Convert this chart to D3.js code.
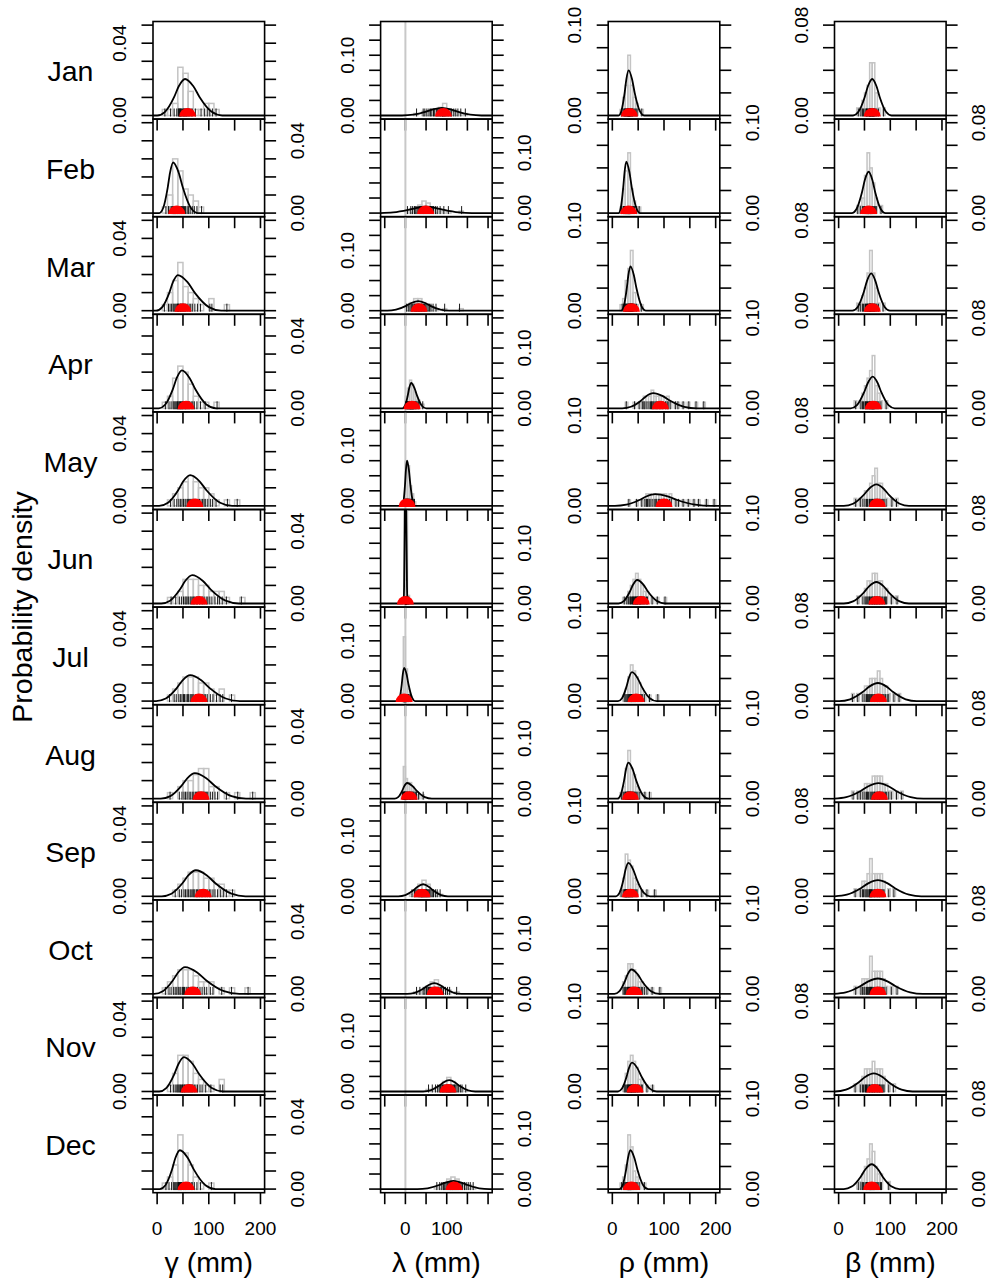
<!DOCTYPE html>
<html><head><meta charset="utf-8">
<script src="https://cdn.jsdelivr.net/npm/d3@7"></script>
<style>body{margin:0;background:#fff}svg{display:block;font-family:"Liberation Sans",Arial,Helvetica,sans-serif}</style>
</head><body><svg id="chart" width="990" height="1285"></svg>
<script>
const months = ["Jan","Feb","Mar","Apr","May","Jun","Jul","Aug","Sep","Oct","Nov","Dec"];
const paramTitles = ["γ (mm)", "λ (mm)", "ρ (mm)", "β (mm)"];
const xLimits = [[0,200],[-50,200],[0,200],[0,200]];
const yLimits = [0.05, 0.15, 0.10, 0.08];
const xTickValues = [[0,50,100,150,200],[-50,0,50,100,150,200],[0,50,100,150,200],[0,50,100,150,200]];
const xTickLabels = [[0,100,200],[0,100],[0,100,200],[0,100,200]];
const yTickValues = [[0,0.01,0.02,0.03,0.04,0.05],[0,0.025,0.05,0.075,0.1,0.125,0.15],[0,0.025,0.05,0.075,0.1],[0,0.02,0.04,0.06,0.08]];
const yTickLabels = [[0,0.04],[0,0.10],[0,0.10],[0,0.08]];

const binWidthGamma = [10,10,10,10,10,10,10,10,10,10,10,10];
const binWidthLambda = [10,10,10,5,5,5,5,5,10,10,10,10];
const binWidthRho = [5,5,5,5,5,5,5,5,5,5,5,5];
const binWidthBeta = [5,5,5,5,5,5,5,5,5,5,5,5];

const obsGamma = [
 [15,26,33,38,41,42,43,44,45,46,47,49,51,52,53,55,56,57,59,61,63,66,68,74,85,92,97,102,107,114],
 [17,22,25,28,30,31,32,33,34,35,36,37,39,40,41,43,44,46,47,49,51,53,55,58,61,64,68,72,77,86],
 [14,22,25,28,31,33,35,37,39,40,41,42,44,45,46,47,49,51,53,55,58,62,65,68,73,78,84,102,106,135],
 [16,23,27,31,33,35,37,39,40,42,43,45,46,47,49,50,52,54,55,57,59,61,63,66,69,72,77,84,93,116],
 [26,33,38,42,45,48,51,54,56,59,61,63,65,67,69,71,74,76,79,82,85,88,91,94,98,103,107,114,136,155],
 [27,36,43,47,51,54,56,58,61,64,66,69,71,73,76,78,82,85,88,91,95,98,102,106,112,117,121,126,134,163],
 [24,33,37,42,45,48,51,53,56,59,61,64,66,68,71,74,76,79,82,85,88,91,94,97,103,108,115,122,127,144],
 [25,43,48,52,55,58,62,65,68,71,74,76,78,80,82,84,86,88,90,92,94,96,98,103,107,112,117,134,156,185],
 [35,43,47,52,55,58,61,64,66,69,71,73,76,78,81,83,86,88,91,94,97,101,104,108,112,117,123,128,134,146],
 [16,23,27,32,35,38,41,44,46,49,51,53,56,58,61,64,66,69,72,75,78,83,87,92,96,103,108,125,144,176],
 [26,32,35,38,40,42,44,45,47,49,50,52,53,55,57,59,61,63,65,67,69,72,75,78,83,87,94,104,122,127],
 [17,23,28,32,34,36,38,40,41,42,43,44,45,46,47,48,51,52,54,55,57,59,61,63,66,68,72,77,84,105]
];
const obsLambda = [
 [27,43,47,52,57,61,64,68,71,75,78,81,84,86,89,90,91,93,94,96,98,101,104,108,112,117,122,127,134,145],
 [5,13,17,22,25,28,31,34,36,38,40,42,44,45,47,49,51,53,55,57,59,62,65,68,73,77,84,93,104,136],
 [3,7,11,14,16,18,21,23,24,26,27,29,31,32,34,35,37,39,41,44,46,48,52,55,58,62,67,74,95,131],
 [1,2,4,5,6,7,8,9,10,11,12,12,13,14,14,15,16,17,18,18,19,20,21,23,24,26,28,31,33,42],
 [0,0,1,1,1,2,2,3,3,4,4,5,5,6,6,7,7,8,8,9,9,10,11,12,13,14,15,17,19,22],
 [0,0,0,0,0,0,0,0,0,0,0,0,0,0,1,1,1,1,1,1,2,2,2,2,3,3,4,4,6,8],
 [-8,-6,-5,-5,-4,-4,-4,-3,-3,-3,-2,-2,-2,-1,-1,-1,-1,-1,0,0,1,1,2,3,3,4,6,7,9,12],
 [-7,-5,-4,-4,-3,-2,-2,-1,-1,0,1,2,3,4,5,6,8,9,10,12,13,14,16,17,19,21,24,27,32,43],
 [16,22,25,28,31,33,35,36,38,39,40,41,42,44,45,46,48,49,51,52,54,55,57,59,62,65,68,73,77,84],
 [27,35,43,47,51,54,56,58,60,62,64,65,67,69,70,71,73,74,76,77,79,81,84,86,88,92,97,102,107,124],
 [56,65,73,78,82,85,88,90,92,94,96,98,100,101,103,104,106,107,109,111,113,115,117,119,122,125,128,133,137,146],
 [76,83,88,92,95,98,101,103,105,107,109,110,112,114,115,117,119,121,123,125,127,129,132,135,138,143,147,152,157,164]
];
const obsRho = [
 [18,21,23,24,25,26,27,28,29,30,30,31,31,32,32,33,33,34,34,35,36,37,38,39,40,42,44,46,48,57],
 [18,21,22,23,24,25,26,26,27,28,28,29,30,30,31,31,32,32,33,33,34,34,35,36,37,39,41,43,47,52],
 [19,22,24,25,26,27,28,29,30,31,32,32,33,34,34,35,35,36,36,37,37,38,38,39,39,41,42,44,47,56],
 [27,43,52,58,61,63,67,71,74,76,77,79,81,84,86,88,91,93,96,98,103,106,108,112,122,127,137,148,162,177],
 [32,47,57,63,66,68,71,73,77,81,84,86,89,91,94,96,99,101,104,107,111,114,123,128,137,147,158,167,182,197],
 [23,28,31,34,35,37,39,40,41,43,44,45,46,47,48,49,50,52,53,54,55,57,59,61,63,66,68,77,87,102],
 [23,26,28,30,31,33,34,35,36,37,37,38,39,40,41,42,43,44,45,46,48,49,51,52,54,56,58,62,72,88],
 [18,21,23,25,26,27,28,29,30,30,31,32,32,33,34,34,35,36,37,38,39,40,41,43,44,46,48,52,63,72],
 [17,21,23,24,25,26,26,27,28,28,29,30,31,32,32,33,34,35,36,37,38,39,40,42,44,46,48,57,67,82],
 [21,24,25,27,29,30,31,32,33,34,35,36,37,38,39,40,41,43,44,45,47,49,51,53,56,58,62,67,77,92],
 [23,25,27,29,30,31,32,33,34,35,36,37,37,38,39,40,41,42,43,44,45,46,48,49,51,53,56,58,67,78],
 [18,22,24,25,27,28,29,30,30,31,31,32,32,33,33,34,35,35,36,36,37,38,39,41,42,44,46,48,52,62]
];
const obsBeta = [
 [38,43,46,48,51,53,54,55,56,58,59,60,60,61,62,62,63,64,65,65,66,67,67,68,69,70,72,74,77,87],
 [37,42,46,48,50,51,52,53,54,55,55,56,57,57,58,58,59,60,61,62,62,63,64,65,66,68,69,71,73,82],
 [38,42,46,48,51,52,54,55,56,57,58,59,60,60,61,61,62,62,63,64,65,66,67,68,69,70,72,74,77,86],
 [33,43,46,48,51,52,54,55,56,58,59,60,61,62,63,64,65,65,66,67,67,68,69,70,72,74,76,78,82,92],
 [33,42,47,51,54,56,59,60,62,64,65,66,68,69,70,71,72,73,74,75,77,79,80,82,84,86,88,92,103,112],
 [37,47,51,53,55,57,59,60,62,64,65,66,68,69,70,71,73,74,75,77,79,80,82,84,86,89,91,93,102,113],
 [27,37,47,51,54,56,58,60,62,64,65,67,69,70,72,74,75,76,78,79,80,82,84,86,88,91,94,97,107,117],
 [28,37,42,47,51,54,56,58,61,63,65,67,69,70,72,74,75,77,79,80,82,84,86,88,91,93,97,102,112,122],
 [32,42,46,48,51,53,55,57,59,60,61,62,63,64,65,67,69,70,72,74,75,77,79,80,82,84,86,88,97,107],
 [33,43,46,49,51,54,56,58,60,61,62,63,64,65,67,69,70,72,74,75,77,79,80,82,84,86,88,92,102,113],
 [32,42,46,48,51,52,54,55,57,59,60,62,64,65,66,68,69,70,72,74,75,77,79,80,82,84,86,88,97,106],
 [38,43,46,48,51,53,54,55,56,58,59,60,61,62,62,63,64,65,66,67,68,69,70,72,74,76,78,81,83,97]
];

const curveXGamma = [
 [0,15.3,32.8,41.9,54,70.1,82.3,105.6,126],
 [4,11.7,20.4,25,31,41.7,49.9,65.4,79],
 [-2,9.9,23.5,30.6,40,58.8,73,100.2,124],
 [3,15.8,30.3,38,48,62.7,74,95.3,114],
 [4,21,40.4,50.6,64,82.1,95.9,122,145],
 [8,25,44.4,54.6,68,88.1,103.4,132.5,158],
 [-2,16.7,38,49.3,64,85.4,101.8,132.8,160],
 [7,25.7,47,58.3,73,95.1,112,144,172],
 [9,27.7,49,60.3,75,96.4,112.8,143.8,171],
 [-6,11,30.4,40.6,54,77.5,95.3,129.3,159],
 [4,17.6,33.1,41.3,52,68.8,81.5,105.8,127],
 [5,16,28.7,35.3,44,59.4,71.1,93.5,113]
];
const curveYGamma = [
 [0,.00202,.0101,.01616,.0202,.01616,.0101,.00202,0],
 [0,.0028,.014,.0224,.028,.0224,.014,.0028,0],
 [0,.00197,.00985,.01576,.0197,.01576,.00985,.00197,0],
 [0,.0021,.0105,.0168,.021,.0168,.0105,.0021,0],
 [0,.0017,.0085,.0136,.017,.0136,.0085,.0017,0],
 [0,.00157,.00785,.01256,.0157,.01256,.00785,.00157,0],
 [0,.00144,.0072,.01152,.0144,.01152,.0072,.00144,0],
 [0,.00141,.00705,.01128,.0141,.01128,.00705,.00141,0],
 [0,.00144,.0072,.01152,.0144,.01152,.0072,.00144,0],
 [0,.00148,.0074,.01184,.0148,.01184,.0074,.00148,0],
 [0,.0019,.0095,.0152,.019,.0152,.0095,.0019,0],
 [0,.00215,.01075,.0172,.0215,.0172,.01075,.00215,0]
];
const curveXLambda = [
 [-8,19.2,50.2,66.6,88,109.4,125.8,156.8,184],
 [-61,-29.6,6.3,25.2,50,74.8,93.7,129.6,161],
 [-44,-22.8,1.5,14.3,31,47.8,60.5,84.8,106],
 [-7,-1.1,5.7,9.3,14,22,28.2,39.8,50],
 [-8,-4.6,-0.7,1.3,4,8.4,11.7,18,23.5],
 [-4.5,-3.2,-1.8,-1,0,1.2,2.1,3.9,5.4],
 [-18,-13.8,-8.9,-6.4,-3,3,7.6,16.4,24],
 [-26,-17.5,-7.8,-2.7,4,17.4,27.6,47,64],
 [-17,0,19.4,29.6,43,56.4,66.6,86,103],
 [4,22.7,44,55.3,70,84.7,96,117.3,136],
 [43,60.9,81.2,91.9,106,120.1,130.8,151.2,169],
 [29,53.7,81.8,96.6,116,135.4,150.2,178.4,203]
];
const curveYLambda = [
 [0,.00125,.00625,.01,.0125,.01,.00625,.00125,0],
 [0,.00105,.00525,.0084,.0105,.0084,.00525,.00105,0],
 [0,.0016,.008,.0128,.016,.0128,.008,.0016,0],
 [0,.0042,.021,.0336,.042,.0336,.021,.0042,0],
 [0,.0075,.0375,.06,.075,.06,.0375,.0075,0],
 [0,.027,.135,.216,.27,.216,.135,.027,0],
 [0,.0055,.0275,.044,.055,.044,.0275,.0055,0],
 [0,.0026,.013,.0208,.026,.0208,.013,.0026,0],
 [0,.002,.01,.016,.02,.016,.01,.002,0],
 [0,.0018,.009,.0144,.018,.0144,.009,.0018,0],
 [0,.00187,.00935,.01496,.0187,.01496,.00935,.00187,0],
 [0,.00135,.00675,.0108,.0135,.0108,.00675,.00135,0]
];
const curveXRho = [
 [12,17.5,23.8,27.1,31.5,38.2,43.3,53,61.5],
 [12,16.3,21.1,23.7,27,33,37.6,46.4,54],
 [17,22.1,27.9,31,35,41.7,46.8,56.5,65],
 [19,36,55.4,65.6,79,97.8,112,139.2,163],
 [5,27.1,52.3,65.6,83,107.1,125.5,160.4,191],
 [12,22.2,33.8,40,48,60.1,69.2,86.7,102],
 [11,18.7,27.4,32,38,48.7,56.9,72.4,86],
 [10,16,22.7,26.3,31,39.7,46.3,59,70],
 [7,13.8,21.6,25.6,31,40.4,47.5,61.1,73],
 [4,13.4,24,29.6,37,49.1,58.2,75.7,91],
 [11,18.7,27.4,32,38,48.7,56.9,72.4,86],
 [14,20,26.7,30.3,35,42.7,48.6,59.7,69.5]
];
const curveYRho = [
 [0,.005,.025,.04,.05,.04,.025,.005,0],
 [0,.00568,.0284,.04544,.0568,.04544,.0284,.00568,0],
 [0,.0049,.0245,.0392,.049,.0392,.0245,.0049,0],
 [0,.00168,.0084,.01344,.0168,.01344,.0084,.00168,0],
 [0,.0013,.0065,.0104,.013,.0104,.0065,.0013,0],
 [0,.0026,.013,.0208,.026,.0208,.013,.0026,0],
 [0,.0032,.016,.0256,.032,.0256,.016,.0032,0],
 [0,.004,.02,.032,.04,.032,.02,.004,0],
 [0,.0037,.0185,.0296,.037,.0296,.0185,.0037,0],
 [0,.0027,.0135,.0216,.027,.0216,.0135,.0027,0],
 [0,.0032,.016,.0256,.032,.0256,.016,.0032,0],
 [0,.0043,.0215,.0344,.043,.0344,.0215,.0043,0]
];
const curveXBeta = [
 [27.8,38.3,50.4,56.7,65,73.3,79.6,91.7,102.2],
 [25.3,34.6,45.1,50.7,58,65.3,70.9,81.4,90.7],
 [26.7,37,48.7,54.9,63,71.1,77.3,89,99.3],
 [23.4,35.5,49.2,56.5,66,75.5,82.8,96.5,108.6],
 [10,27.9,48.2,58.9,73,87.1,97.8,118.2,136],
 [10,27.9,48.2,58.9,73,87.1,97.8,118.2,136],
 [1,22.3,46.5,59.3,76,92.8,105.5,129.8,151],
 [-10,14.7,42.8,57.6,77,96.4,111.2,139.4,164],
 [-8,15.8,43,57.2,76,94.8,109,136.2,160],
 [-11,13.7,41.8,56.6,76,95.4,110.2,138.4,163],
 [-7,14.3,38.5,51.3,68,84.8,97.5,121.8,143],
 [10,25.3,42.8,51.9,64,76.1,85.2,102.7,118]
];
const curveYBeta = [
 [0,.00323,.01615,.02584,.0323,.02584,.01615,.00323,0],
 [0,.00366,.0183,.02928,.0366,.02928,.0183,.00366,0],
 [0,.0033,.0165,.0264,.033,.0264,.0165,.0033,0],
 [0,.0028,.014,.0224,.028,.0224,.014,.0028,0],
 [0,.0019,.0095,.0152,.019,.0152,.0095,.0019,0],
 [0,.0019,.0095,.0152,.019,.0152,.0095,.0019,0],
 [0,.0016,.008,.0128,.016,.0128,.008,.0016,0],
 [0,.00137,.00685,.01096,.0137,.01096,.00685,.00137,0],
 [0,.00143,.00715,.01144,.0143,.01144,.00715,.00143,0],
 [0,.00136,.0068,.01088,.0136,.01088,.0068,.00136,0],
 [0,.0016,.008,.0128,.016,.0128,.008,.0016,0],
 [0,.0022,.011,.0176,.022,.0176,.011,.0022,0]
];

const meanGamma = [59,38,50,56,73,81,81,85,89,69,62,56];
const meanLambda = [92,49,33,16,4,0,-3,9,40,72,103,118];
const meanRho = [33,31.5,37,93,100,56,46,35,35,42,44,37];
const meanBeta = [65,58,65,67,75,74,77,79,76,76,70,64];

// ---------- drawing ----------
const svg = d3.select("#chart");
const colLeft = [153, 380.6, 608.2, 834.5];
const panelW = 111.6, panelH = 97.6, rowTop0 = 21.5, tickLen = 11.5;
const fontBig = 28.5, fontTick = 19;

const columns = [
  {obs: obsGamma, bw: binWidthGamma, cx: curveXGamma, cy: curveYGamma, mean: meanGamma},
  {obs: obsLambda, bw: binWidthLambda, cx: curveXLambda, cy: curveYLambda, mean: meanLambda},
  {obs: obsRho, bw: binWidthRho, cx: curveXRho, cy: curveYRho, mean: meanRho},
  {obs: obsBeta, bw: binWidthBeta, cx: curveXBeta, cy: curveYBeta, mean: meanBeta}
];
const fmt2 = d3.format(".2f");
const defs = svg.append("defs");

columns.forEach((col, c) => {
  const [xlo, xhi] = xLimits[c];
  const ext = 0.04 * (xhi - xlo);
  const xd = [xlo - ext, xhi + ext];
  const left = colLeft[c], right = left + panelW;
  const x = d3.scaleLinear().domain(xd).range([left, right]);
  const ymax = yLimits[c];

  months.forEach((mName, r) => {
    const top = rowTop0 + r * panelH, bottom = top + panelH;
    const y = d3.scaleLinear().domain([-0.04 * ymax, 1.04 * ymax]).range([bottom, top]);
    const g = svg.append("g");
    const clipId = `clip-${c}-${r}`;
    defs.append("clipPath").attr("id", clipId).append("rect")
      .attr("x", left).attr("y", top).attr("width", panelW).attr("height", panelH);
    const inner = g.append("g").attr("clip-path", `url(#${clipId})`);

    if (c === 1) {
      inner.append("line").attr("x1", x(0)).attr("x2", x(0)).attr("y1", top).attr("y2", bottom)
        .attr("stroke", "#c8c8c8").attr("stroke-width", 2);
    }

    // histogram
    const obs = col.obs[r], w = col.bw[r], n = obs.length;
    const bins = d3.bin().domain([-100, 300]).thresholds(d3.range(-100, 300, w))(obs)
      .filter(b => b.length > 0);
    inner.selectAll("rect.bar").data(bins).join("rect").attr("class", "bar")
      .attr("x", b => x(b.x0)).attr("width", b => x(b.x1) - x(b.x0))
      .attr("y", b => y(b.length / (n * w)))
      .attr("height", b => y(0) - y(b.length / (n * w)))
      .attr("fill", "none").attr("stroke", "#c4c4c4").attr("stroke-width", 1.5);

    // fitted density curve
    const pts = col.cx[r].map((v, i) => [v, col.cy[r][i]]);
    if (pts[0][0] > xd[0]) pts.unshift([xd[0], 0]);
    if (pts[pts.length - 1][0] < xd[1]) pts.push([xd[1], 0]);
    const line = d3.line().x(d => x(d[0])).y(d => y(d[1])).curve(d3.curveMonotoneX);
    inner.append("path").attr("d", line(pts)).attr("fill", "none")
      .attr("stroke", "#000").attr("stroke-width", 1.8);

    // rug
    inner.selectAll("line.rug").data(obs).join("line").attr("class", "rug")
      .attr("x1", d => x(d)).attr("x2", d => x(d))
      .attr("y1", y(0) + 1).attr("y2", y(0) - 7)
      .attr("stroke", "#000").attr("stroke-width", 0.9);

    // mean marker (red half disk on the zero line)
    const arc = d3.arc().innerRadius(0).outerRadius(8.5).startAngle(-Math.PI / 2).endAngle(Math.PI / 2);
    inner.append("path").attr("d", arc()).attr("fill", "#ff0000")
      .attr("transform", `translate(${x(col.mean[r])},${y(0) + 1})`);

    // box
    g.append("rect").attr("x", left).attr("y", top).attr("width", panelW).attr("height", panelH)
      .attr("fill", "none").attr("stroke", "#000").attr("stroke-width", 1.6);

    // y ticks both sides
    yTickValues[c].forEach(t => {
      g.append("line").attr("x1", left).attr("x2", left - tickLen).attr("y1", y(t)).attr("y2", y(t))
        .attr("stroke", "#000").attr("stroke-width", 1.6);
      g.append("line").attr("x1", right).attr("x2", right + tickLen).attr("y1", y(t)).attr("y2", y(t))
        .attr("stroke", "#000").attr("stroke-width", 1.6);
    });
    const labX = (r % 2 === 0) ? left - 27 : right + 39;
    yTickLabels[c].forEach(t => {
      g.append("text").attr("transform", `translate(${labX},${y(t)}) rotate(-90)`)
        .attr("text-anchor", "middle").attr("font-size", fontTick).attr("fill", "#000")
        .text(fmt2(t));
    });

    // x ticks below the panel
    xTickValues[c].forEach(t => {
      g.append("line").attr("x1", x(t)).attr("x2", x(t)).attr("y1", bottom).attr("y2", bottom + tickLen)
        .attr("stroke", "#000").attr("stroke-width", 1.6);
    });
    if (r === months.length - 1) {
      xTickLabels[c].forEach(t => {
        g.append("text").attr("x", x(t)).attr("y", bottom + 42.5).attr("text-anchor", "middle")
          .attr("font-size", fontTick).attr("fill", "#000").text(t);
      });
      g.append("text").attr("x", (left + right) / 2).attr("y", 1272).attr("text-anchor", "middle")
        .attr("font-size", fontBig).attr("fill", "#000").text(paramTitles[c]);
    }

    if (c === 0) {
      svg.append("text").attr("x", 70.5).attr("y", top + panelH / 2 + 11)
        .attr("text-anchor", "middle").attr("font-size", fontBig).attr("fill", "#000").text(mName);
    }
  });
});

svg.append("text").attr("transform", `translate(32,607) rotate(-90)`)
  .attr("text-anchor", "middle").attr("font-size", fontBig).attr("fill", "#000")
  .text("Probability density");
</script>
</body></html>
